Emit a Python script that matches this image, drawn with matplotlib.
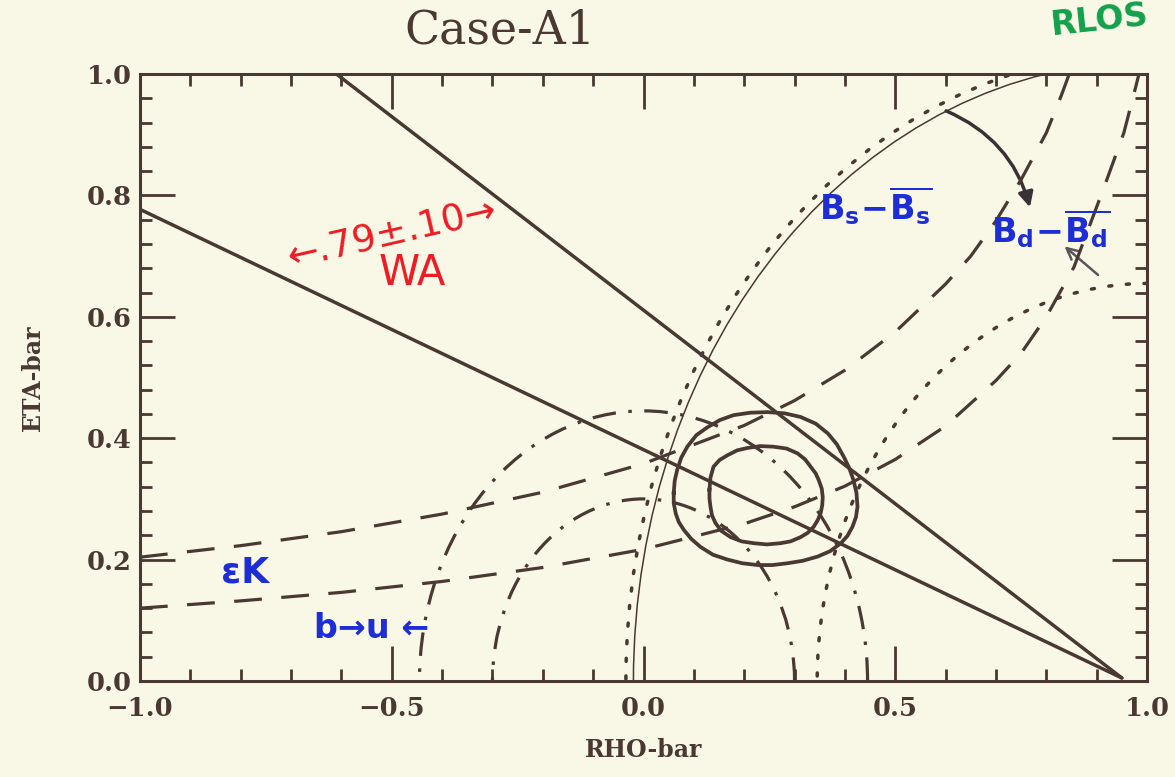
import matplotlib
matplotlib.use("Agg")
import matplotlib.pyplot as plt
from matplotlib.patches import Arc, FancyArrowPatch
from matplotlib.ticker import MultipleLocator

plt.rcParams['lines.scale_dashes'] = False
plt.rcParams['mathtext.fontset'] = 'dejavusans'

# ---------------- data ----------------
# WA (sin 2beta) straight lines, converging near (0.95, 0)
wa_low_rho = [-1.0, 0.95]
wa_low_eta = [0.777, 0.005]
wa_up_rho = [-0.61, 0.95]
wa_up_eta = [1.0, 0.005]

# epsilon_K hyperbolas (dashed)
epsk_low_rho = [-1.0, -0.8, -0.6, -0.4, -0.2, 0.0, 0.2, 0.3, 0.4, 0.5, 0.6, 0.7,
                0.75, 0.8, 0.855, 0.915, 0.954, 0.978, 0.99]
epsk_low_eta = [0.120, 0.132, 0.146, 0.164, 0.187, 0.217, 0.259, 0.287, 0.321, 0.365,
                0.420, 0.495, 0.540, 0.600, 0.682, 0.814, 0.903, 0.980, 1.02]
epsk_up_rho = [-1.0, -0.8, -0.6, -0.4, -0.2, 0.0, 0.2, 0.3, 0.4, 0.5, 0.6, 0.65, 0.7,
               0.75, 0.8, 0.83, 0.85]
epsk_up_eta = [0.204, 0.223, 0.246, 0.275, 0.311, 0.358, 0.421, 0.462, 0.512, 0.575,
               0.654, 0.700, 0.758, 0.826, 0.903, 0.965, 1.01]

# |Vub/Vcb| circles around (0,0)  (dash-dot)
vub_center = (0.0, 0.0)
vub_radii = [0.300, 0.445]
# Delta m_d circle around (1,0)  (dotted)
dmd_center = (1.0, 0.0)
dmd_radius = 0.655
# Delta m_s bound around (1,0): dotted and thin solid
dms_center = (1.0, 0.0)
dms_radius_dotted = 1.035
dms_radius_thin = 1.020

# fit contours (closed)
outer_rho = [0.060, 0.062, 0.067, 0.075, 0.087, 0.105, 0.127, 0.152, 0.179, 0.212, 0.246,
             0.280, 0.312, 0.342, 0.366, 0.384, 0.398, 0.409, 0.417, 0.423, 0.425, 0.422,
             0.415, 0.405, 0.392, 0.371, 0.346, 0.316, 0.286, 0.256, 0.227, 0.196, 0.167,
             0.138, 0.113, 0.095, 0.080, 0.070, 0.064, 0.060, 0.060]
outer_eta = [0.310, 0.330, 0.348, 0.368, 0.386, 0.405, 0.418, 0.430, 0.438, 0.442, 0.443,
             0.441, 0.435, 0.424, 0.408, 0.390, 0.369, 0.350, 0.331, 0.310, 0.287, 0.270,
             0.254, 0.239, 0.227, 0.214, 0.205, 0.198, 0.194, 0.191, 0.191, 0.194, 0.200,
             0.208, 0.221, 0.234, 0.249, 0.262, 0.276, 0.293, 0.310]
inner_rho = [0.131, 0.133, 0.139, 0.151, 0.167, 0.186, 0.207, 0.232, 0.258, 0.284, 0.306,
             0.321, 0.332, 0.342, 0.348, 0.354, 0.356, 0.355, 0.352, 0.346, 0.338, 0.326,
             0.312, 0.292, 0.272, 0.245, 0.219, 0.195, 0.173, 0.155, 0.143, 0.136, 0.133,
             0.131, 0.131]
inner_eta = [0.315, 0.335, 0.353, 0.364, 0.372, 0.380, 0.384, 0.387, 0.386, 0.383, 0.375,
             0.365, 0.353, 0.342, 0.331, 0.317, 0.303, 0.290, 0.277, 0.265, 0.254, 0.244,
             0.237, 0.230, 0.227, 0.225, 0.227, 0.230, 0.237, 0.247, 0.260, 0.273, 0.287,
             0.301, 0.315]

x_major = [-1.0, -0.5, 0.0, 0.5, 1.0]
x_labels = ['\u22121.0', '\u22120.5', '0.0', '0.5', '1.0']
y_major = [0.0, 0.2, 0.4, 0.6, 0.8, 1.0]
y_labels = ['0.0', '0.2', '0.4', '0.6', '0.8', '1.0']

# ---------------- styles ----------------
BG = '#f9f8e7'
INK = '#4a3833'
BLUE = '#1e2ed6'
RED = '#ee1c24'
GREEN = '#14a04c'

DASH = (0, (20, 14))
DASHDOT = (0, (17, 9, 2.5, 9))
DOT = (0, (2.2, 10.5))

fig = plt.figure(figsize=(11.75, 7.77), dpi=100, facecolor=BG)
ax = fig.add_axes([140 / 1175, 96 / 777, 1007 / 1175, 607 / 777])
ax.set_facecolor(BG)
ax.set_xlim(-1.0, 1.0)
ax.set_ylim(0.0, 1.0)

# straight WA lines
ax.plot(wa_low_rho, wa_low_eta, color=INK, lw=2.5, solid_capstyle='round')
ax.plot(wa_up_rho, wa_up_eta, color=INK, lw=2.5, solid_capstyle='round')

# epsilon_K
ax.plot(epsk_low_rho, epsk_low_eta, color=INK, lw=2.3, linestyle=DASH, dash_capstyle='butt')
ax.plot(epsk_up_rho, epsk_up_eta, color=INK, lw=2.3, linestyle=DASH, dash_capstyle='butt')

# circles
for r in vub_radii:
    ax.add_patch(Arc(vub_center, 2 * r, 2 * r, theta1=0, theta2=180, color=INK,
                     lw=2.3, linestyle=DASHDOT))
ax.add_patch(Arc(dmd_center, 2 * dmd_radius, 2 * dmd_radius, theta1=90, theta2=180,
                 color=INK, lw=2.5, linestyle=DOT, capstyle='round'))
ax.add_patch(Arc(dms_center, 2 * dms_radius_dotted, 2 * dms_radius_dotted, theta1=90,
                 theta2=180, color=INK, lw=2.5, linestyle=DOT, capstyle='round'))
ax.add_patch(Arc(dms_center, 2 * dms_radius_thin, 2 * dms_radius_thin, theta1=90,
                 theta2=180, color=INK, lw=1.1))

# contours
ax.plot(outer_rho, outer_eta, color=INK, lw=2.7, solid_joinstyle='round')
ax.plot(inner_rho, inner_eta, color=INK, lw=2.7, solid_joinstyle='round')

# axes styling
for s in ax.spines.values():
    s.set_color(INK)
    s.set_linewidth(2.2)
ax.set_xticks(x_major)
ax.set_xticklabels(x_labels)
ax.set_yticks(y_major)
ax.set_yticklabels(y_labels)
ax.xaxis.set_minor_locator(MultipleLocator(0.1))
ax.yaxis.set_minor_locator(MultipleLocator(0.04))
ax.tick_params(which='both', direction='in', top=True, right=True, color=INK, width=2.0)
ax.tick_params(which='major', length=25)
ax.tick_params(which='minor', length=8.5)
ax.tick_params(axis='x', which='major', pad=11)
ax.tick_params(axis='y', which='major', pad=6)
for lab in ax.get_xticklabels() + ax.get_yticklabels():
    lab.set_fontfamily('DejaVu Serif')
    lab.set_fontweight('bold')
    lab.set_fontsize(18.5)
    lab.set_color(INK)

ax.set_xlabel('RHO-bar', fontfamily='DejaVu Serif', fontweight='bold', fontsize=17,
              color=INK, labelpad=12)
ax.set_ylabel('ETA-bar', fontfamily='DejaVu Serif', fontweight='bold', fontsize=17,
              color=INK, labelpad=30)

fig.text(500 / 1175, 1 - 31 / 777, 'Case-A1', fontfamily='DejaVu Serif', fontsize=33,
         color=INK, ha='center', va='center')

# handwritten annotations
ax.text(-0.50, 0.735, '\u2190.79\u00b1.10\u2192', rotation=13, fontsize=27, color=RED,
        ha='center', va='center', rotation_mode='anchor')
ax.text(-0.46, 0.672, 'WA', fontsize=30, color=RED, ha='center', va='center')
ax.text(0.462, 0.784, r'$\mathbf{B_s\!-\!\overline{B_s}}$', fontsize=24, color=BLUE,
        ha='center', va='center')
ax.text(0.808, 0.745, r'$\mathbf{B_d\!-\!\overline{B_d}}$', fontsize=24, color=BLUE,
        ha='center', va='center')
ax.text(-0.792, 0.178, '\u03b5K', fontsize=26, color=BLUE, ha='center', va='center',
        fontweight='bold')
ax.text(-0.539, 0.087, 'b\u2192u \u2190', fontsize=24, color=BLUE, ha='center',
        va='center', fontweight='bold')
fig.text(1100 / 1175, 1 - 20 / 777, 'RLOS', fontsize=24, color=GREEN, ha='center',
         va='center', fontweight='bold', rotation=6)

ax.add_patch(FancyArrowPatch((0.596, 0.941), (0.769, 0.776),
                             connectionstyle='arc3,rad=-0.25', arrowstyle='-|>',
                             mutation_scale=22, color='#3a3035', lw=2.5))
ax.add_patch(FancyArrowPatch((0.907, 0.666), (0.832, 0.719), arrowstyle='->',
                             mutation_scale=20, color='#5a5558', lw=1.8))

fig.savefig('out.png', dpi=100, facecolor=BG)
